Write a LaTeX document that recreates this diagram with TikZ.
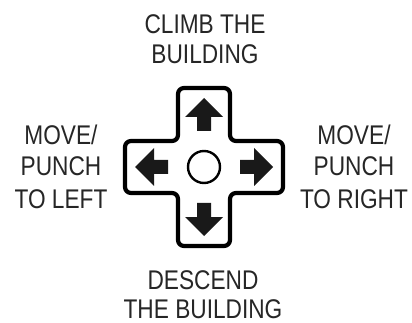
\documentclass[tikz,border=0pt]{standalone}
\usepackage{fontspec}
\usetikzlibrary{calc}
\setmainfont[FakeStretch=0.84]{Liberation Sans}
\begin{document}
\begin{tikzpicture}[x=1pt,y=-1pt,
  lbl/.style={inner sep=0pt,align=center,anchor=base,text=black!85,font=\fontsize{27}{30}\selectfont},
  sidelbl/.style={lbl,font=\fontsize{27}{32}\selectfont},
  padline/.style={line width=4.2pt,rounded corners=6pt,line join=round},
  arrowfill/.style={fill=black!90,draw=none}]
\useasboundingbox (0,0) rectangle (412,323);
\coordinate (c) at (204,167);
% cross outline
\def\w{26}\def\L{79}
\draw[padline] ($(c)+(-\w,-\L)$) -- ++(2*\w,0) -- ++(0,\L-\w) -- ++(\L-\w,0) -- ++(0,2*\w)
  -- ++(\w-\L,0) -- ++(0,\L-\w) -- ++(-2*\w,0) -- ++(0,\w-\L) -- ++(\w-\L,0) -- ++(0,-2*\w)
  -- ++(\L-\w,0) -- cycle;
% center button
\node[circle,draw,line width=2.4pt,minimum size=32pt,inner sep=0pt] (btn) at (c) {};
% arrows
\foreach \r/\n in {0/up,90/right,180/down,270/left}{
  \begin{scope}[shift={(c)},rotate=\r]
    \fill[arrowfill] (-7,-36) -- (-7,-50) -- (-19,-50) -- (0,-69) -- (19,-50) -- (7,-50) -- (7,-36) -- cycle;
    \coordinate (a\n) at (0,-60);
  \end{scope}
}
% labels (anchor base = last line's baseline)
\node[lbl] (top) at (205,64) {CLIMB THE\\BUILDING};
\node[lbl,text depth=0pt,font=\fontsize{27}{29}\selectfont] (bot) at (203,318) {DESCEND\\THE BUILDING};
\node[sidelbl] (lft) at (61,208) {MOVE/\\PUNCH\\TO LEFT};
\node[sidelbl] (rgt) at (354,208) {MOVE/\\PUNCH\\TO RIGHT};
\end{tikzpicture}
\end{document}
